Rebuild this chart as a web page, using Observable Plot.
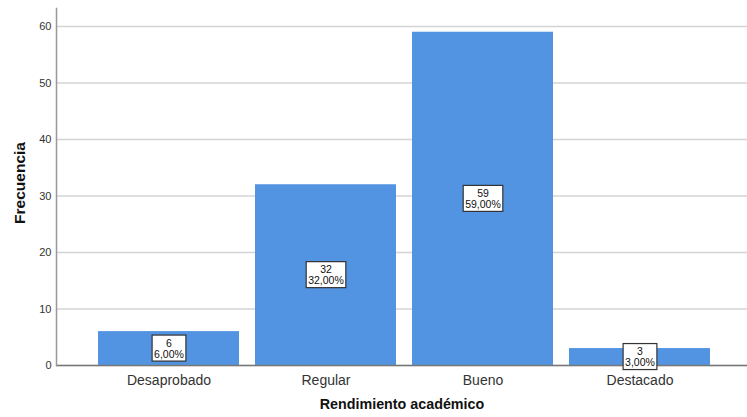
<!DOCTYPE html>
<html><head><meta charset="utf-8">
<script src="https://cdn.jsdelivr.net/npm/d3@7"></script>
<script src="https://cdn.jsdelivr.net/npm/@observablehq/plot@0.6"></script>
<style>body{margin:0;background:#fff;} svg{display:block;}</style>
</head><body><div id="chart"></div>
<script>
const categories = ["Desaprobado", "Regular", "Bueno", "Destacado"];
const counts = [6, 32, 59, 3];
const percents = ["6,00%", "32,00%", "59,00%", "3,00%"];
const yTicks = [0, 10, 20, 30, 40, 50, 60];
const xTitle = "Rendimiento académico";
const yTitle = "Frecuencia";
const data = categories.map((c, i) => ({cat: c, n: counts[i], pct: percents[i]}));

const chart = Plot.plot({
  width: 747, height: 417,
  marginLeft: 56, marginRight: 0, marginTop: 8, marginBottom: 52,
  style: {fontFamily: '"Liberation Sans", Arial, sans-serif', background: "#fff", color: "#333"},
  x: {domain: categories, padding: 0.1, insetLeft: 26.6, insetRight: 20.7, label: null},
  y: {domain: [0, 63.2], label: null},
  marks: [
    Plot.gridY(yTicks, {stroke: "#d4d4d4", strokeOpacity: 1, strokeWidth: 1.5}),
    Plot.barY(data, {x: "cat", y: "n", fill: "#5294e2"}),
    Plot.ruleY([0], {stroke: "#777", strokeWidth: 1.5}),
    Plot.frame({anchor: "left", stroke: "#999", strokeWidth: 1.5}),
    Plot.axisY(yTicks, {tickSize: 0, tickPadding: 5, fontSize: 11, label: null, fill: "#333"}),
    Plot.axisX({tickSize: 0, tickPadding: 10, fontSize: 14, label: null, fill: "#333"}),
    Plot.text([xTitle], {frameAnchor: "bottom", dy: 43, fontSize: 14.3, fontWeight: "bold", fill: "#111"}),
    Plot.text([yTitle], {frameAnchor: "left", textAnchor: "middle", rotate: -90, dx: -36, dy: -4, fontSize: 15.5, fontWeight: "bold", fill: "#111"}),
    Plot.text(data, {x: "cat", y: d => d.n / 2, text: d => `${d.n}\n${d.pct}`, fontSize: 10.5, lineHeight: 1.05, fill: "#111", className: "boxlabel"})
  ]
});
document.getElementById("chart").appendChild(chart);

// draw white boxes behind the value labels (in each label's own coordinates)
d3.select(chart).selectAll("g.boxlabel text").each(function() {
  const b = this.getBBox();
  const h = 26;
  const cy = b.y + b.height / 2;
  const r = d3.select(this.parentNode).insert("rect", () => this)
    .attr("x", b.x - 2).attr("y", cy - h / 2)
    .attr("width", b.width + 4).attr("height", h)
    .attr("fill", "#fff").attr("stroke", "#333").attr("stroke-width", 1.2);
  const t = this.getAttribute("transform");
  if (t) r.attr("transform", t);
});
</script>
</body></html>
